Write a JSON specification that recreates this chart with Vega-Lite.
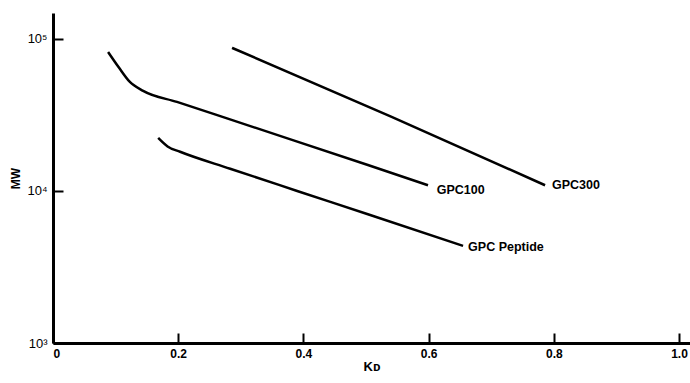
{
  "$schema": "https://vega.github.io/schema/vega-lite/v6.json",
  "autosize": "none",
  "width": 637,
  "height": 330,
  "padding": {"left": 53, "top": 13, "right": 0, "bottom": 40},
  "background": "white",
  "config": {
    "view": {"stroke": null},
    "font": "Liberation Sans",
    "axis": {"grid": false, "domainColor": "black", "tickColor": "black", "labelColor": "black", "titleColor": "black"}
  },
  "datasets": {
    "curves": [
      {"series": "GPC100", "kd": 0.088, "mw": 82000},
      {"series": "GPC100", "kd": 0.105, "mw": 65000},
      {"series": "GPC100", "kd": 0.122, "mw": 52500},
      {"series": "GPC100", "kd": 0.144, "mw": 45500},
      {"series": "GPC100", "kd": 0.198, "mw": 38500},
      {"series": "GPC100", "kd": 0.278, "mw": 30000},
      {"series": "GPC100", "kd": 0.383, "mw": 21600},
      {"series": "GPC100", "kd": 0.503, "mw": 14800},
      {"series": "GPC100", "kd": 0.599, "mw": 10900},
      {"series": "GPC300", "kd": 0.286, "mw": 87300},
      {"series": "GPC300", "kd": 0.54, "mw": 30800},
      {"series": "GPC300", "kd": 0.786, "mw": 10900},
      {"series": "GPC Peptide", "kd": 0.168, "mw": 22300},
      {"series": "GPC Peptide", "kd": 0.183, "mw": 19600},
      {"series": "GPC Peptide", "kd": 0.203, "mw": 18100},
      {"series": "GPC Peptide", "kd": 0.283, "mw": 14000},
      {"series": "GPC Peptide", "kd": 0.39, "mw": 10000},
      {"series": "GPC Peptide", "kd": 0.503, "mw": 7020},
      {"series": "GPC Peptide", "kd": 0.655, "mw": 4350}
    ],
    "labels": [
      {"label": "GPC100", "kd": 0.613, "mw": 10200},
      {"label": "GPC300", "kd": 0.797, "mw": 10950},
      {"label": "GPC Peptide", "kd": 0.663, "mw": 4290}
    ]
  },
  "encoding": {
    "x": {
      "field": "kd", "type": "quantitative",
      "scale": {"domain": [0, 1.0175], "nice": false, "zero": false},
      "axis": {
        "values": [0, 0.2, 0.4, 0.6, 0.8, 1.0],
        "labelExpr": "datum.value == 0 ? '0' : format(datum.value, '.1f')",
        "domainWidth": 3, "tickWidth": 2, "tickSize": -10,
        "labelFontSize": 12, "labelFontWeight": "bold", "labelPadding": 15,
        "title": "Kᴅ", "titleFontSize": 13, "titleFontWeight": "bold", "titlePadding": 1
      }
    },
    "y": {
      "field": "mw", "type": "quantitative",
      "scale": {"type": "log", "domain": [1000, 148000], "nice": false},
      "axis": {
        "values": [1000, 10000, 100000],
        "labelExpr": "datum.value == 1000 ? '10³' : datum.value == 10000 ? '10⁴' : '10⁵'",
        "domainWidth": 3, "tickWidth": 2, "tickSize": -10,
        "labelFontSize": 13, "labelPadding": 16,
        "title": "MW", "titleFontSize": 12, "titleFontWeight": "bold", "titlePadding": 4
      }
    }
  },
  "layer": [
    {
      "data": {"name": "curves"},
      "mark": {"type": "line", "color": "black", "strokeWidth": 2.5, "interpolate": "monotone"},
      "encoding": {"detail": {"field": "series"}}
    },
    {
      "data": {"name": "labels"},
      "mark": {"type": "text", "align": "left", "baseline": "middle", "fontSize": 12.5, "fontWeight": "bold", "color": "black"},
      "encoding": {"text": {"field": "label"}}
    }
  ]
}
